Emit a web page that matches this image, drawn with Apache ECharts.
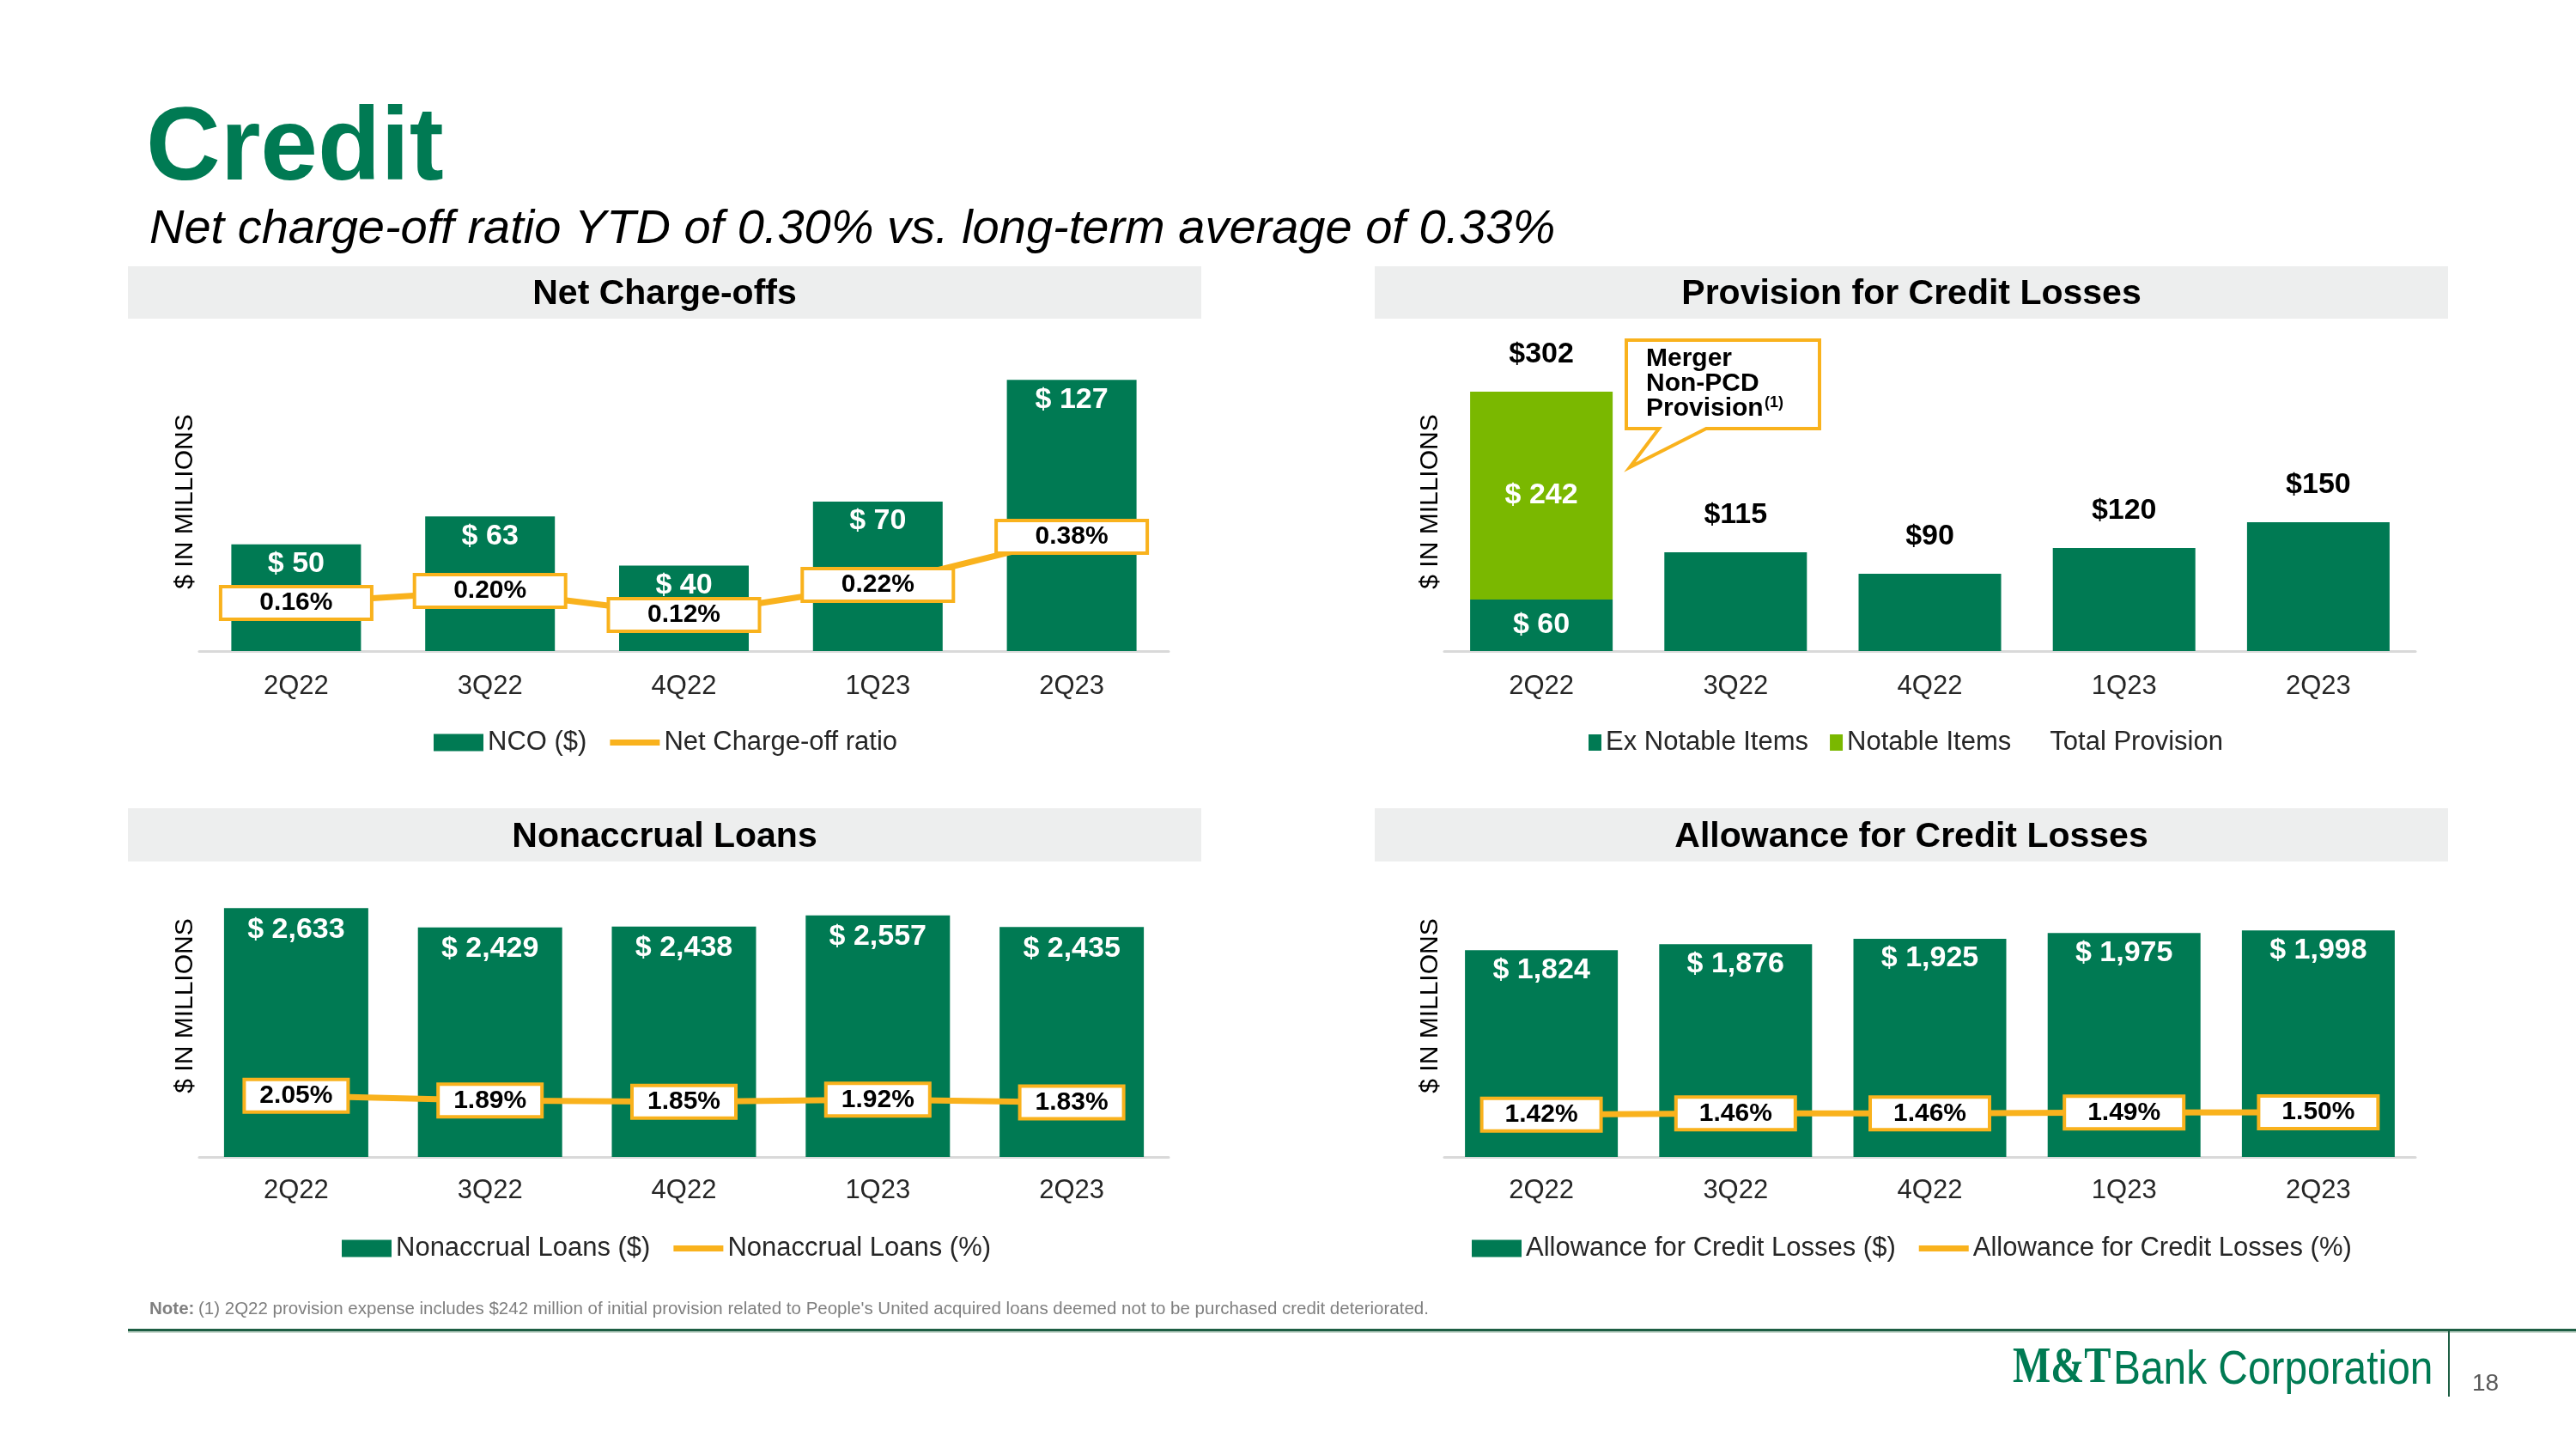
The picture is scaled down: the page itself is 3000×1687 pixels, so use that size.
<!DOCTYPE html>
<html><head><meta charset="utf-8">
<script src="https://cdn.jsdelivr.net/npm/echarts@6/dist/echarts.min.js"></script>
<style>html,body{margin:0;padding:0;background:#fff}#c{width:3000px;height:1687px}</style>
</head><body><div id="c"></div>
<script>
const categories = ['2Q22','3Q22','4Q22','1Q23','2Q23'];
const ncoValues = [50,63,40,70,127];
const ncoRatio = [0.16,0.20,0.12,0.22,0.38];
const provisionExNotable = [60,115,90,120,150];
const provisionNotable = [242,null,null,null,null];
const provisionTotal = [302,115,90,120,150];
const nonaccrualValues = [2633,2429,2438,2557,2435];
const nonaccrualPct = [2.05,1.89,1.85,1.92,1.83];
const allowanceValues = [1824,1876,1925,1975,1998];
const allowancePct = [1.42,1.46,1.46,1.49,1.50];

const GREEN = '#007A53', LIME = '#7AB800', GOLD = '#F9B21D', FONT = '"Liberation Sans", Arial, sans-serif';
const fmtMoney = v => '$ ' + v.toLocaleString('en-US');
const fmtPct = p => p.value.toFixed(2) + '%';

function xAx(i, margin) {
  return {type:'category', gridIndex:i, data:categories,
    axisLine:{lineStyle:{color:'#D9D9D9', width:3}}, axisTick:{show:false},
    axisLabel:{fontSize:31, color:'#262626', margin:margin, fontFamily:FONT}};
}
function yAx(i, max) { return {type:'value', gridIndex:i, min:0, max:max, show:false}; }
function barLabel(dist) {
  return {show:true, position:'insideTop', distance:dist, color:'#fff', fontWeight:'bold', fontSize:34, fontFamily:FONT,
    formatter: p => fmtMoney(p.value)};
}
function boxLabel(w) {
  return {show:true, position:'inside', formatter:fmtPct, color:'#000', fontWeight:'bold', fontSize:30, fontFamily:FONT,
    backgroundColor:'#fff', borderColor:GOLD, borderWidth:4, width:w, align:'center', lineHeight:30, padding:[2,0]};
}
function lineSeries(name, xi, yi, data, w) {
  return {name, type:'line', xAxisIndex:xi, yAxisIndex:yi, data, symbol:'rect', symbolSize:1,
    itemStyle:{color:GOLD}, lineStyle:{color:GOLD, width:7}, label:boxLabel(w), z:5};
}
function legendCfg(left, top, items, iw, ih, gap) {
  return {left, top, padding:0, itemWidth:iw, itemHeight:ih, itemGap:gap, selectedMode:false, data:items,
    textStyle:{fontSize:31, color:'#262626', fontFamily:FONT}};
}
const lineIcon = 'path://M0 0H58V7H0Z';

const txt = (x, y, text, font, fill, align, valign, extra) => Object.assign({type:'text', x, y,
  style:{text, font, fill, textAlign:align||'left', textVerticalAlign:valign||'middle'}}, extra||{});

const graphics = [
  txt(170, 176, 'Credit', 'bold 120px ' + FONT, GREEN),
  txt(174, 267, 'Net charge-off ratio YTD of 0.30% vs. long-term average of 0.33%', 'italic 56px ' + FONT, '#000'),
  {type:'rect', shape:{x:149, y:310, width:1250, height:61}, style:{fill:'#EDEEEE'}, z:-10},
  {type:'rect', shape:{x:1601, y:310, width:1250, height:61}, style:{fill:'#EDEEEE'}, z:-10},
  {type:'rect', shape:{x:149, y:941, width:1250, height:62}, style:{fill:'#EDEEEE'}, z:-10},
  {type:'rect', shape:{x:1601, y:941, width:1250, height:62}, style:{fill:'#EDEEEE'}, z:-10},
  txt(774, 343, 'Net Charge-offs', 'bold 41px ' + FONT, '#000', 'center'),
  txt(2226, 343, 'Provision for Credit Losses', 'bold 41px ' + FONT, '#000', 'center'),
  txt(774, 975, 'Nonaccrual Loans', 'bold 41px ' + FONT, '#000', 'center'),
  txt(2226, 975, 'Allowance for Credit Losses', 'bold 41px ' + FONT, '#000', 'center'),
  txt(216, 584, '$ IN MILLIONS', '30px ' + FONT, '#000', 'center', 'middle', {rotation:Math.PI/2}),
  txt(1666, 584, '$ IN MILLIONS', '30px ' + FONT, '#000', 'center', 'middle', {rotation:Math.PI/2}),
  txt(216, 1171, '$ IN MILLIONS', '30px ' + FONT, '#000', 'center', 'middle', {rotation:Math.PI/2}),
  txt(1666, 1171, '$ IN MILLIONS', '30px ' + FONT, '#000', 'center', 'middle', {rotation:Math.PI/2}),
  {type:'polygon', shape:{points:[[1894,396],[2119,396],[2119,499],[1987,499],[1898,544],[1932,499],[1894,499]]},
    style:{fill:'#fff', stroke:GOLD, lineWidth:4}, z:20},
  txt(1917, 418, 'Merger', 'bold 30px ' + FONT, '#000', 'left', 'middle', {z:21}),
  txt(1917, 447, 'Non-PCD', 'bold 30px ' + FONT, '#000', 'left', 'middle', {z:21}),
  txt(1917, 476, 'Provision', 'bold 30px ' + FONT, '#000', 'left', 'middle', {z:21}),
  txt(2055, 460, '(1)', 'bold 18px ' + FONT, '#000', 'left', 'top', {z:21}),
  txt(174, 1524, 'Note:', 'bold 20.5px ' + FONT, '#7F7F7F'),
  txt(231, 1524, '(1) 2Q22 provision expense includes $242 million of initial provision related to People\'s United acquired loans deemed not to be purchased credit deteriorated.', '20.5px ' + FONT, '#7F7F7F'),
  {type:'rect', shape:{x:149, y:1547, width:2851, height:3}, style:{fill:'#1D5E43'}},
  {type:'rect', shape:{x:149, y:1550, width:2851, height:2}, style:{fill:'#C9D9CF'}},
  {type:'rect', shape:{x:2851, y:1548, width:2, height:78}, style:{fill:'#1D5E43'}},
  txt(2344, 1623, 'M&T', 'bold 60px "Liberation Serif", serif', GREEN, 'left', 'bottom', {scaleX:0.78}),
  txt(2461, 1623, 'Bank Corporation', '55px ' + FONT, GREEN, 'left', 'bottom', {scaleX:0.87}),
  txt(2879, 1625, '18', '28px ' + FONT, '#595959', 'left', 'bottom')
];

const option = {
  animation:false,
  textStyle:{fontFamily:FONT},
  grid:[
    {left:232, top:385, width:1129, height:373},
    {left:1682, top:408, width:1131, height:350},
    {left:232, top:1017, width:1129, height:330},
    {left:1682, top:1017, width:1131, height:330}
  ],
  xAxis:[xAx(0,26), xAx(1,26), xAx(2,24), xAx(3,24)],
  yAxis:[yAx(0,150), yAx(0,1.066), yAx(1,350), yAx(2,3000), yAx(2,9.5), yAx(3,2500), yAx(3,9.5)],
  legend:[
    legendCfg(505, 849, [{name:'NCO ($)', icon:'rect'}, {name:'Net Charge-off ratio', icon:lineIcon}], 58, 20, 27),
    legendCfg(1850, 849, [{name:'Ex Notable Items', icon:'rect'}, {name:'Notable Items', icon:'rect'}, {name:'Total Provision', icon:'rect'}], 15, 19, 25),
    legendCfg(398, 1438, [{name:'Nonaccrual Loans ($)', icon:'rect'}, {name:'Nonaccrual Loans (%)', icon:lineIcon}], 58, 20, 27),
    legendCfg(1714, 1438, [{name:'Allowance for Credit Losses ($)', icon:'rect'}, {name:'Allowance for Credit Losses (%)', icon:lineIcon}], 58, 20, 27)
  ],
  series:[
    {name:'NCO ($)', type:'bar', xAxisIndex:0, yAxisIndex:0, data:ncoValues, barWidth:151,
      itemStyle:{color:GREEN}, label:barLabel(6)},
    lineSeries('Net Charge-off ratio', 0, 1, ncoRatio, 172),
    {name:'Ex Notable Items', type:'bar', xAxisIndex:1, yAxisIndex:2, stack:'prov', barWidth:166, barGap:'-100%',
      itemStyle:{color:GREEN},
      data: provisionExNotable.map((v,i) => provisionNotable[i] != null ? {value:v, label:{show:true}} : v),
      label:{show:false, position:'inside', color:'#fff', fontWeight:'bold', fontSize:34, fontFamily:FONT, formatter:p => fmtMoney(p.value)}},
    {name:'Notable Items', type:'bar', xAxisIndex:1, yAxisIndex:2, stack:'prov', barWidth:166, barGap:'-100%',
      itemStyle:{color:LIME}, data:provisionNotable,
      label:{show:true, position:'inside', color:'#fff', fontWeight:'bold', fontSize:34, fontFamily:FONT, formatter:p => fmtMoney(p.value)}},
    {name:'Total Provision', type:'bar', xAxisIndex:1, yAxisIndex:2, barWidth:166, barGap:'-100%',
      itemStyle:{color:'rgba(0,0,0,0)'}, data:provisionTotal, z:1,
      label:{show:true, position:'top', distance:26, color:'#000', fontWeight:'bold', fontSize:34, fontFamily:FONT, formatter:p => '$' + p.value}},
    {name:'Nonaccrual Loans ($)', type:'bar', xAxisIndex:2, yAxisIndex:3, data:nonaccrualValues, barWidth:168,
      itemStyle:{color:GREEN}, label:barLabel(8)},
    lineSeries('Nonaccrual Loans (%)', 2, 4, nonaccrualPct, 117),
    {name:'Allowance for Credit Losses ($)', type:'bar', xAxisIndex:3, yAxisIndex:5, data:allowanceValues, barWidth:178,
      itemStyle:{color:GREEN}, label:barLabel(6)},
    lineSeries('Allowance for Credit Losses (%)', 3, 6, allowancePct, 135)
  ],
  graphic:{elements:graphics}
};
const chart = echarts.init(document.getElementById('c'), null, {renderer:'canvas'});
chart.setOption(option);
</script></body></html>
